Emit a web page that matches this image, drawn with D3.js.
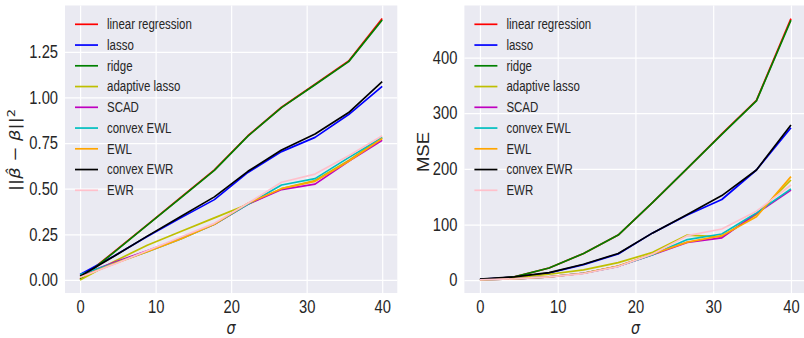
<!DOCTYPE html>
<html>
<head>
<meta charset="utf-8">
<script src="https://cdn.jsdelivr.net/npm/d3@7"></script>
<style>
  html, body { margin: 0; padding: 0; background: #fff; }
  svg { display: block; }
</style>
</head>
<body>
<script>
// sigma grid (x values shared by both panels)
const sigma = [0, 4.44, 8.89, 13.33, 17.78, 22.22, 26.67, 31.11, 35.56, 40];

const methods = ["linear regression", "lasso", "ridge", "adaptive lasso", "SCAD",
  "convex EWL", "EWL", "convex EWR", "EWR"];

// ||beta_hat - beta||^2, one array per method (same order as methods)
const betaLinReg = [0.005, 0.152, 0.302, 0.452, 0.603, 0.79, 0.946, 1.072, 1.2, 1.432];
const betaLasso = [0.03, 0.13, 0.238, 0.34, 0.44, 0.589, 0.703, 0.781, 0.906, 1.06];
const betaRidge = [0.002, 0.15, 0.3, 0.45, 0.6, 0.788, 0.944, 1.069, 1.196, 1.424];
const betaAdaLasso = [0.0, 0.1, 0.19, 0.265, 0.34, 0.415, 0.5, 0.545, 0.655, 0.78];
const betaScad = [0.025, 0.095, 0.16, 0.228, 0.305, 0.415, 0.495, 0.525, 0.65, 0.765];
const betaCvxEwl = [0.03, 0.09, 0.155, 0.225, 0.305, 0.415, 0.52, 0.555, 0.67, 0.78];
const betaEwl = [0.015, 0.088, 0.155, 0.225, 0.305, 0.42, 0.5, 0.54, 0.65, 0.775];
const betaCvxEwr = [0.02, 0.128, 0.24, 0.348, 0.455, 0.595, 0.712, 0.8, 0.917, 1.087];
const betaEwr = [0.015, 0.085, 0.16, 0.235, 0.31, 0.42, 0.535, 0.58, 0.68, 0.79];

// MSE
const mseLinReg = [0.5, 6, 22, 48, 81, 140, 201, 263, 323, 470];
const mseLasso = [1.5, 5.5, 13, 28, 47, 85, 117, 145, 198, 274];
const mseRidge = [0.5, 6, 22, 48, 81, 140, 201, 262, 322, 467];
const mseAdaLasso = [0.5, 4.5, 10.7, 18.5, 31.5, 50, 81, 78, 118, 180];
const mseScad = [0.5, 2.5, 6, 12.5, 25, 46, 68, 76, 120, 162];
const mseCvxEwl = [0.5, 2.5, 6, 12.5, 25, 46, 73, 83, 121, 164];
const mseEwl = [0.5, 2.5, 6, 12.5, 25.6, 47, 68.5, 80, 114, 186];
const mseCvxEwr = [1.8, 6, 13.7, 28.6, 48, 85, 118, 152, 198, 279];
const mseEwr = [0.5, 2.5, 6, 12, 24.5, 47, 80, 92, 124, 171];

const xTicks = [0, 10, 20, 30, 40];
const betaTicks = [0, 0.25, 0.5, 0.75, 1.0, 1.25];
const mseTicks = [0, 100, 200, 300, 400];

const colors = ["#ff0000", "#0000ff", "#008000", "#bfbf00", "#bf00bf",
  "#00bfbf", "#ffa500", "#000000", "#ffc0cb"];

const W = 804, H = 338;
const font = "'Liberation Sans', Arial, sans-serif";
const textColor = "#262626";
const squeeze = 0.82;   // source figure was squashed horizontally

const svg = d3.select("body").append("svg")
  .attr("width", W).attr("height", H)
  .attr("font-family", font);

// matplotlib-like 5% padding around the data range
function padded(ext) {
  const p = (ext[1] - ext[0]) * 0.05;
  return [ext[0] - p, ext[1] + p];
}

function panel(opts) {
  const { left, right, top, bottom, series, yTicks, yFmt } = opts;
  const g = svg.append("g");

  const x = d3.scaleLinear().domain(padded(d3.extent(sigma))).range([left, right]);
  const yExt = [d3.min(series, (s) => d3.min(s)), d3.max(series, (s) => d3.max(s))];
  const y = d3.scaleLinear().domain(padded(yExt)).range([bottom, top]);

  g.append("rect")
    .attr("x", left).attr("y", top)
    .attr("width", right - left).attr("height", bottom - top)
    .attr("fill", "#eaeaf2");

  // grid + tick labels via axes
  g.append("g")
    .attr("transform", `translate(0,${bottom})`)
    .call(d3.axisBottom(x).tickValues(xTicks).tickSize(-(bottom - top)).tickPadding(7.5))
    .call((a) => a.select(".domain").remove())
    .call((a) => a.selectAll(".tick line").attr("stroke", "#fff").attr("stroke-width", 1.2))
    .call((a) => a.selectAll(".tick text").attr("fill", textColor).attr("font-size", "18px")
      .attr("font-family", font).attr("transform", `scale(${squeeze},1)`));

  g.append("g")
    .attr("transform", `translate(${left},0)`)
    .call(d3.axisLeft(y).tickValues(yTicks).tickFormat(yFmt).tickSize(-(right - left)).tickPadding(8.5))
    .call((a) => a.select(".domain").remove())
    .call((a) => a.selectAll(".tick line").attr("stroke", "#fff").attr("stroke-width", 1.2))
    .call((a) => a.selectAll(".tick text").attr("fill", textColor).attr("font-size", "18px")
      .attr("font-family", font).attr("transform", `scale(${squeeze},1)`));

  const clipId = "clip" + Math.round(left);
  svg.append("clipPath").attr("id", clipId)
    .append("rect").attr("x", left).attr("y", top)
    .attr("width", right - left).attr("height", bottom - top);

  const line = d3.line().x((d, i) => x(sigma[i])).y((d) => y(d));

  g.append("g").attr("clip-path", `url(#${clipId})`)
    .selectAll("path")
    .data(series)
    .join("path")
    .attr("d", line)
    .attr("fill", "none")
    .attr("stroke", (d, i) => colors[i])
    .attr("stroke-width", 1.7)
    .attr("stroke-linejoin", "round");

  // legend (no frame)
  const leg = g.append("g")
    .selectAll("g")
    .data(methods)
    .join("g")
    .attr("transform", (d, i) => `translate(${left + 10},${24.3 + i * 20.75})`);
  leg.append("line")
    .attr("x1", 0).attr("x2", 23)
    .attr("stroke", (d, i) => colors[i]).attr("stroke-width", 1.7);
  leg.append("text")
    .attr("transform", `translate(32,0) scale(${squeeze},1)`)
    .attr("dy", "0.35em")
    .attr("fill", textColor)
    .attr("font-size", "14px")
    .text((d) => d);

  // x label sigma
  g.append("text")
    .attr("transform", `translate(${x(20)},333.8) scale(${squeeze},1)`)
    .attr("text-anchor", "middle")
    .attr("font-family", "'DejaVu Sans', sans-serif")
    .attr("font-style", "italic")
    .attr("font-size", "17.5px")
    .attr("fill", textColor)
    .text("σ");

  return g;
}

const left = panel({
  left: 65, right: 397.3, top: 5.5, bottom: 293,
  series: [betaLinReg, betaLasso, betaRidge, betaAdaLasso, betaScad, betaCvxEwl, betaEwl, betaCvxEwr, betaEwr],
  yTicks: betaTicks, yFmt: d3.format(".2f")
});

const right = panel({
  left: 464.4, right: 806.5, top: 5.5, bottom: 293,
  series: [mseLinReg, mseLasso, mseRidge, mseAdaLasso, mseScad, mseCvxEwl, mseEwl, mseCvxEwr, mseEwr],
  yTicks: mseTicks, yFmt: d3.format("d")
});

// y labels (rotated, squeezed a little like the source)
const lab = left.append("text")
  .attr("transform", `translate(20,150) rotate(-90) scale(1,${squeeze})`)
  .attr("text-anchor", "middle")
  .attr("font-family", "'DejaVu Sans', sans-serif")
  .attr("font-size", "18px")
  .attr("fill", textColor);
lab.append("tspan").text("||");
lab.append("tspan").attr("font-style", "italic").text("β\u0302");
lab.append("tspan").text(" − ");
lab.append("tspan").attr("font-style", "italic").text("β");
lab.append("tspan").text("||");
lab.append("tspan").attr("dy", "-0.45em").attr("font-size", "13px").text("2");

right.append("text")
  .attr("transform", "translate(428.5,152) rotate(-90) scale(1,0.9)")
  .attr("text-anchor", "middle")
  .attr("font-family", font)
  .attr("font-size", "18.5px")
  .attr("fill", textColor)
  .text("MSE");
</script>
</body>
</html>
